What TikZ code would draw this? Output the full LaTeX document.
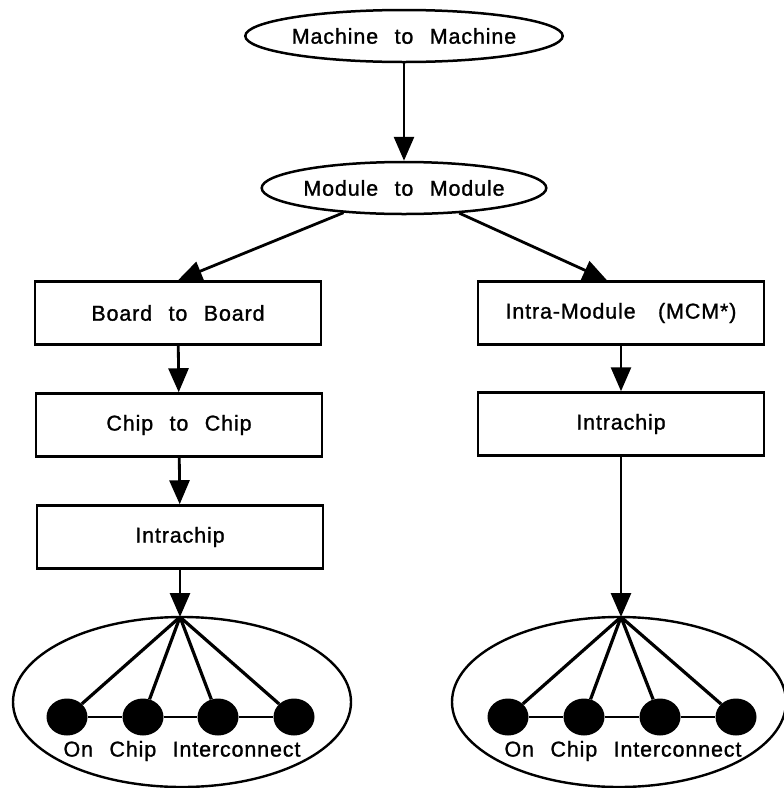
\documentclass[tikz,border=0pt]{standalone}
\usepackage{fontspec}
\setmainfont{Liberation Sans}[LetterSpace=4,WordSpace=2.4,FakeBold=1.2]
\usetikzlibrary{arrows.meta,shapes.geometric}
\begin{document}
\begin{tikzpicture}[x=1pt,y=-1pt,
  every node/.style={font=\fontsize{21.5}{25}\selectfont, inner sep=0pt},
  ovalbox/.style={ellipse, draw, line width=2.5pt, minimum width=282pt, minimum height=52pt},
  levelbox/.style={rectangle, draw, line width=2.5pt, minimum width=286pt, minimum height=63pt},
  chipoval/.style={ellipse, draw, line width=2.4pt, minimum width=338pt, minimum height=170pt},
  dot/.style={ellipse, fill=black, minimum width=41pt, minimum height=37pt},
  flow/.style={line width=2.8pt, -{Triangle[length=24pt,width=20pt]}},
  spoke/.style={line width=3.2pt},
  bus/.style={line width=2.2pt}]
\useasboundingbox (0,0) rectangle (784,788);

\node[ovalbox] (m1) at (404,36) {Machine to Machine};
\node[ovalbox] (m2) at (404,188) {Module to Module};

\node[levelbox] (b1) at (178,313) {Board to Board};
\node[levelbox] (b2) at (179,425) {Chip to Chip};
\node[levelbox] (b3) at (180,537) {Intrachip};

\node[levelbox] (r1) at (621,313) {Intra-Module\hspace{6pt} (MCM*)};
\node[levelbox] (r2) at (621,424) {Intrachip};

% bottom left
\node[chipoval] (lo) at (182,702) {};
\coordinate (lh) at (180,617);
\node[dot] (l1) at (67,717) {};
\node[dot] (l2) at (143,717) {};
\node[dot] (l3) at (218,717) {};
\node[dot] (l4) at (294,717) {};
\node (lt) at (182,751) {On Chip Interconnect};

% bottom right
\node[chipoval, minimum width=334pt] (ro) at (619,702) {};
\coordinate (rh) at (621,617);
\node[dot] (q1) at (508,717) {};
\node[dot] (q2) at (584,717) {};
\node[dot] (q3) at (660,717) {};
\node[dot] (q4) at (736,717) {};
\node (rt) at (623,751) {On Chip Interconnect};

% connectors
\draw[flow] (m1) -- (m2);
\draw[flow] (m2) -- (b1.north);
\draw[flow] (m2) -- ([xshift=-14pt]r1.north);
\draw[flow] (b1) -- (b2);
\draw[flow] (b2) -- (b3);
\draw[flow] (b3.south) -- (lh);
\draw[flow] (r1) -- (r2);
\draw[flow] (r2.south) -- (rh);

\draw[bus] (l1) -- (l2) -- (l3) -- (l4);
\draw[bus] (q1) -- (q2) -- (q3) -- (q4);
\foreach \d in {l1,l2,l3,l4} \draw[spoke] (lh) -- (\d);
\foreach \d in {q1,q2,q3,q4} \draw[spoke] (rh) -- (\d);
\end{tikzpicture}
\end{document}
